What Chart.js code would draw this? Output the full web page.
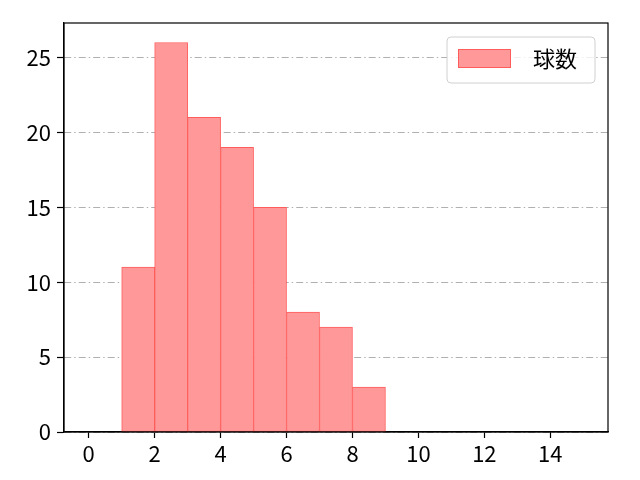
<!DOCTYPE html>
<html>
<head>
<meta charset="utf-8">
<script src="https://cdn.jsdelivr.net/npm/chart.js@4"></script>
<style>
  html, body { margin: 0; padding: 0; background: #fff; }
  #wrap { width: 640px; height: 480px; }
</style>
</head>
<body>
<div id="wrap"><canvas id="histChart" width="640" height="480"></canvas></div>
<script>
// 히스토그램 데이터 (구간 중심, 도수)
const binCenters = [1.5, 2.5, 3.5, 4.5, 5.5, 6.5, 7.5, 8.5];
const counts = [11, 26, 21, 19, 15, 8, 7, 3];
const xTicks = [0, 2, 4, 6, 8, 10, 12, 14];
const yTicks = [0, 5, 10, 15, 20, 25];
const seriesLabel = '球数';

const FONT = "'Noto Sans CJK JP', 'DejaVu Sans', sans-serif";
const fillColor = '#ff9999';
const edgeColor = '#ff5c5c';

// 축 박스 + 범례 그리기
const framePlugin = {
  id: 'frame',
  afterDraw(chart) {
    const c = chart.ctx;
    const a = chart.chartArea;
    c.save();
    c.strokeStyle = '#000';
    c.lineWidth = 1.2;
    c.strokeRect(a.left, a.top, a.right - a.left, a.bottom - a.top);

    // 범례 (오른쪽 위, 축 안쪽)
    const bx = a.right - 161, by = a.top + 14, bw = 148, bh = 46;
    c.fillStyle = 'rgba(255,255,255,0.8)';
    c.strokeStyle = '#d0d0d0';
    c.lineWidth = 1;
    c.beginPath();
    c.roundRect(bx, by, bw, bh, 4);
    c.fill();
    c.stroke();
    c.fillStyle = fillColor;
    c.fillRect(bx + 11, by + 12, 53, 19);
    c.strokeStyle = edgeColor;
    c.strokeRect(bx + 11.5, by + 12.5, 52, 18);
    c.fillStyle = '#000';
    c.font = '22px ' + FONT;
    c.textBaseline = 'middle';
    c.fillText(seriesLabel, bx + 86, by + 22);
    c.restore();
  }
};

const ctx = document.getElementById('histChart').getContext('2d');
const histChart = new Chart(ctx, {
  type: 'bar',
  data: {
    datasets: [{
      label: seriesLabel,
      data: binCenters.map((x, i) => ({ x: x, y: counts[i] })),
      backgroundColor: fillColor,
      borderColor: edgeColor,
      borderWidth: 1,
      borderSkipped: false,
      barPercentage: 1,
      categoryPercentage: 1
    }]
  },
  options: {
    responsive: false,
    animation: false,
    layout: { padding: { top: 23, right: 32, left: 0, bottom: 0 } },
    plugins: {
      legend: { display: false },
      tooltip: { enabled: false }
    },
    scales: {
      x: {
        type: 'linear',
        offset: false,
        min: -0.75,
        max: 15.75,
        afterBuildTicks(scale) { scale.ticks = xTicks.map(v => ({ value: v })); },
        afterFit(scale) { scale.height = 48; },
        grid: { offset: false, drawOnChartArea: false, tickLength: 6, tickColor: '#000', tickWidth: 1.2 },
        border: { color: '#000', width: 1.2 },
        ticks: { color: '#000', font: { family: FONT, size: 22 }, padding: 2, maxRotation: 0 }
      },
      y: {
        min: 0,
        max: 27.3,
        afterBuildTicks(scale) { scale.ticks = yTicks.map(v => ({ value: v })); },
        afterFit(scale) { scale.width = 64; },
        grid: {
          color: '#b0b0b0',
          lineWidth: 1,
          tickLength: 7,
          tickColor: '#000',
          tickWidth: 1.2,
          tickBorderDash: []
        },
        border: { color: '#000', width: 1.2, dash: [7, 3, 1.5, 3] },
        ticks: { color: '#000', font: { family: FONT, size: 22 }, padding: 6 }
      }
    }
  },
  plugins: [framePlugin]
});
</script>
</body>
</html>
